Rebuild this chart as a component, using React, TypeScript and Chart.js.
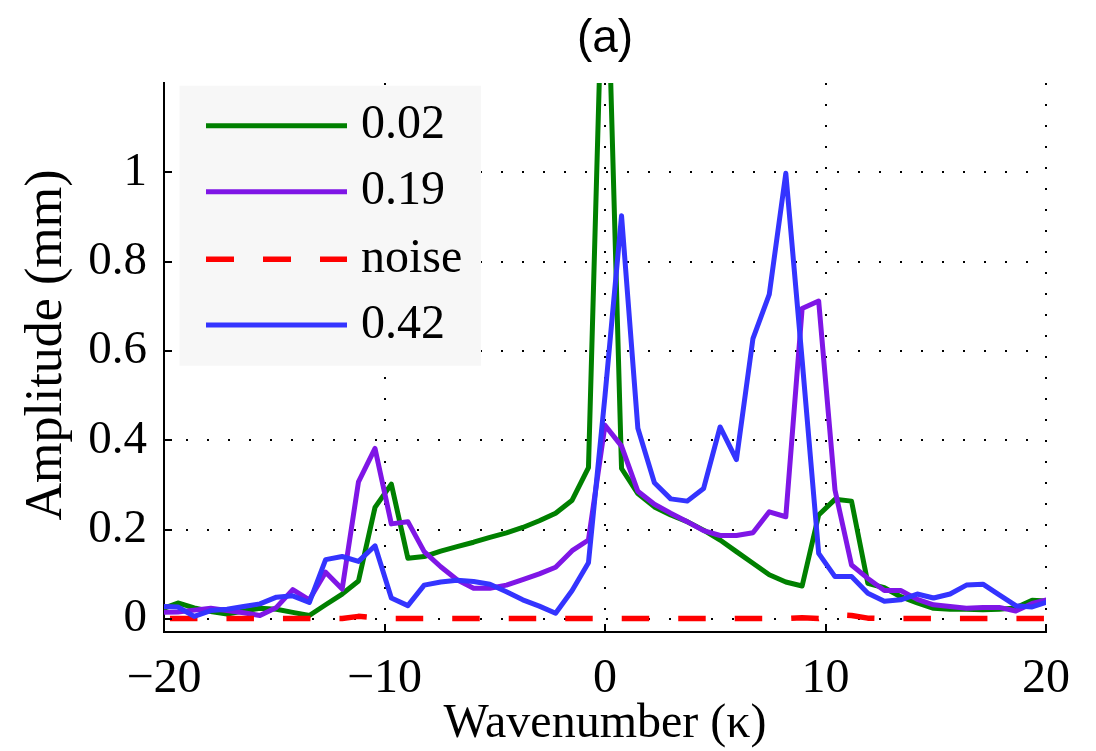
import React, { useEffect, useRef } from 'react';
import Chart from 'chart.js/auto';

// Wavenumber grid (κ)
const kappa = [
  -20.12, -19.37, -18.63, -17.88, -17.14, -16.39, -15.65, -14.9, -14.16, -13.41,
  -12.67, -11.92, -11.18, -10.43, -9.69, -8.94, -8.2, -7.45, -6.71, -5.96,
  -5.22, -4.47, -3.73, -2.98, -2.24, -1.49, -0.75, 0, 0.75, 1.49,
  2.24, 2.98, 3.73, 4.47, 5.22, 5.96, 6.71, 7.45, 8.2, 8.94,
  9.69, 10.43, 11.18, 11.92, 12.67, 13.41, 14.16, 14.9, 15.65, 16.39,
  17.14, 17.88, 18.63, 19.37, 20.12,
];

const amp002 = [
  0.022, 0.036, 0.025, 0.017, 0.011, 0.018, 0.024, 0.022, 0.015, 0.008,
  0.032, 0.056, 0.085, 0.25, 0.302, 0.136, 0.14, 0.152, 0.162, 0.172,
  0.183, 0.193, 0.205, 0.22, 0.237, 0.266, 0.339, 1.66, 0.337, 0.281,
  0.251, 0.233, 0.218, 0.199, 0.177, 0.151, 0.125, 0.099, 0.083, 0.074,
  0.233, 0.268, 0.264, 0.08, 0.07, 0.05, 0.036, 0.024, 0.022, 0.022,
  0.021, 0.022, 0.025, 0.042, 0.04,
];

const amp019 = [
  0.015, 0.016, 0.02, 0.024, 0.019, 0.014, 0.008, 0.026, 0.066, 0.043,
  0.105, 0.067, 0.307, 0.382, 0.213, 0.218, 0.151, 0.117, 0.088, 0.069,
  0.069, 0.076, 0.088, 0.101, 0.116, 0.153, 0.177, 0.434, 0.387, 0.286,
  0.257, 0.237, 0.218, 0.198, 0.187, 0.187, 0.193, 0.24, 0.229, 0.695,
  0.712, 0.289, 0.121, 0.091, 0.064, 0.064, 0.044, 0.032, 0.028, 0.024,
  0.026, 0.026, 0.018, 0.035, 0.044,
];

const noise = [
  0.001, 0.001, 0.001, 0.001, 0.001, 0.001, 0.001, 0.001, 0.001, 0.001,
  0.001, 0.001, 0.006, 0.003, 0.001, 0.001, 0.001, 0.001, 0.001, 0.001,
  0.001, 0.001, 0.001, 0.001, 0.001, 0.001, 0.001, 0.001, 0.001, 0.001,
  0.001, 0.001, 0.001, 0.001, 0.001, 0.001, 0.001, 0.001, 0.001, 0.003,
  0.001, 0.01, 0.008, 0.002, 0.001, 0.001, 0.001, 0.001, 0.001, 0.001,
  0.001, 0.001, 0.001, 0.001, 0.001,
];

const amp042 = [
  0.028, 0.027, 0.006, 0.019, 0.022, 0.028, 0.034, 0.049, 0.052, 0.037,
  0.133, 0.14, 0.129, 0.164, 0.047, 0.03, 0.076, 0.083, 0.087, 0.084,
  0.078, 0.061, 0.043, 0.029, 0.013, 0.064, 0.126, 0.5, 0.903, 0.427,
  0.305, 0.269, 0.264, 0.292, 0.43, 0.357, 0.628, 0.727, 0.998, 0.58,
  0.147, 0.095, 0.095, 0.058, 0.04, 0.043, 0.056, 0.047, 0.056, 0.076,
  0.078, 0.054, 0.03, 0.027, 0.039,
];

const xTicks = [-20, -10, 0, 10, 20];
const yTicks = [0, 0.2, 0.4, 0.6, 0.8, 1];
const seriesLabels = ['0.02', '0.19', 'noise', '0.42'];
const titleText = '(a)';
const xTitle = 'Wavenumber (\u03ba)';
const yTitle = 'Amplitude (mm)';

const GREEN = '#008000';
const PURPLE = '#7F16E6';
const RED = '#FF0000';
const BLUE = '#3434FF';
const SERIF = '"Liberation Serif", "Times New Roman", Times, serif';
const SANS = '"Liberation Sans", Arial, Helvetica, sans-serif';

const fmt = (v: number) => {
  const s = String(Math.round(v * 100) / 100);
  return s.startsWith('-') ? '\u2212' + s.slice(1) : s;
};

export default function App() {
  const ref = useRef<HTMLCanvasElement>(null);

  useEffect(() => {
    document.body.style.margin = '0';
    const canvas = ref.current;
    if (!canvas) return;

    const LW = 5;
    const legendStyles = [
      { color: GREEN, dash: [] as number[], width: LW },
      { color: PURPLE, dash: [] as number[], width: LW },
      { color: RED, dash: [28, 29], width: 5.5 },
      { color: BLUE, dash: [] as number[], width: LW },
    ];
    const legendRows = [42.7, 108.7, 176.3, 242];

    const decor = {
      id: 'decor',
      afterDraw(chart: any) {
        const { ctx, chartArea: a, scales } = chart;
        const xs = scales.x;
        const ys = scales.y;
        ctx.save();
        // inward tick marks
        ctx.strokeStyle = '#000';
        ctx.lineWidth = 2;
        ctx.setLineDash([]);
        ctx.beginPath();
        yTicks.forEach((v) => {
          const py = Math.round(ys.getPixelForValue(v));
          ctx.moveTo(a.left, py);
          ctx.lineTo(a.left + 8, py);
        });
        xTicks.forEach((v) => {
          const px = Math.round(xs.getPixelForValue(v));
          ctx.moveTo(px, a.bottom);
          ctx.lineTo(px, a.bottom - 8);
        });
        ctx.stroke();

        // legend box
        const lx = a.left + 15.5;
        const ly = a.top + 2.7;
        ctx.fillStyle = '#F7F7F7';
        ctx.fillRect(lx, ly, 301.5, 280);
        seriesLabels.forEach((lab, i) => {
          const st = legendStyles[i];
          const yy = a.top + legendRows[i];
          ctx.strokeStyle = st.color;
          ctx.lineWidth = st.width;
          ctx.setLineDash(st.dash);
          ctx.lineDashOffset = 0;
          ctx.beginPath();
          ctx.moveTo(a.left + 42, yy);
          ctx.lineTo(a.left + 183, yy);
          ctx.stroke();
          ctx.setLineDash([]);
          ctx.fillStyle = '#000';
          ctx.font = `48px ${SERIF}`;
          ctx.textAlign = 'left';
          ctx.textBaseline = 'middle';
          ctx.fillText(lab, a.left + 197, yy);
        });

        // title
        ctx.fillStyle = '#000';
        ctx.font = `46px ${SANS}`;
        ctx.textAlign = 'center';
        ctx.textBaseline = 'middle';
        ctx.fillText(titleText, (a.left + a.right) / 2, 39);

        // axis titles
        ctx.font = `48px ${SERIF}`;
        ctx.fillText(xTitle, (a.left + a.right) / 2, 724);
        ctx.translate(47, 345);
        ctx.rotate(-Math.PI / 2);
        ctx.font = `52px ${SERIF}`;
        ctx.fillText(yTitle, 0, 0);
        ctx.restore();
      },
    };

    const mk = (vals: number[]) => vals.map((v, i) => ({ x: kappa[i], y: v }));
    const clip = { left: 0, right: 0, top: 0, bottom: 6 };

    const chart = new Chart(canvas, {
      type: 'line',
      data: {
        datasets: [
          { label: seriesLabels[0], data: mk(amp002), borderColor: GREEN, borderWidth: LW, order: 3, clip },
          { label: seriesLabels[1], data: mk(amp019), borderColor: PURPLE, borderWidth: LW, order: 2, clip },
          { label: seriesLabels[2], data: mk(noise), borderColor: RED, borderWidth: 5.5, borderDash: [27.5, 29], borderDashOffset: 47.9, order: 1, clip },
          { label: seriesLabels[3], data: mk(amp042), borderColor: BLUE, borderWidth: LW, order: 0, clip },
        ] as any,
      },
      options: {
        responsive: false,
        animation: false,
        devicePixelRatio: 1,
        elements: { point: { radius: 0 }, line: { tension: 0, borderJoinStyle: 'round', borderCapStyle: 'butt' } },
        layout: { padding: { left: 0, top: 83, right: 50, bottom: 0 } },
        plugins: { legend: { display: false }, tooltip: { enabled: false }, title: { display: false } },
        scales: {
          x: {
            type: 'linear',
            min: -20,
            max: 20,
            afterBuildTicks: (s: any) => { s.ticks = xTicks.map((v) => ({ value: v })); },
            afterFit: (s: any) => { s.height = 119; },
            grid: { color: '#000', lineWidth: 2, drawTicks: false, drawOnChartArea: true },
            border: { display: true, color: '#000', width: 2, dash: [2, 19] },
            ticks: {
              color: '#000',
              padding: 19,
              maxRotation: 0,
              autoSkip: false,
              font: { family: SERIF, size: 48 },
              callback: (v: any) => fmt(Number(v)),
            },
            title: { display: false },
          },
          y: {
            type: 'linear',
            min: -0.029,
            max: 1.2,
            afterBuildTicks: (s: any) => { s.ticks = yTicks.map((v) => ({ value: v })); },
            afterFit: (s: any) => { s.width = 164; },
            grid: { color: '#000', lineWidth: 2, drawTicks: false, drawOnChartArea: true },
            border: { display: true, color: '#000', width: 2, dash: [2, 19] },
            ticks: {
              color: '#000',
              padding: 17,
              autoSkip: false,
              font: { family: SERIF, size: 47 },
              callback: (v: any) => fmt(Number(v)),
            },
            title: { display: false },
          },
        },
      } as any,
      plugins: [decor],
    });

    return () => chart.destroy();
  }, []);

  return (
    <div style={{ width: 1096, height: 751 }}>
      <canvas ref={ref} width={1096} height={751} style={{ display: 'block' }} />
    </div>
  );
}
